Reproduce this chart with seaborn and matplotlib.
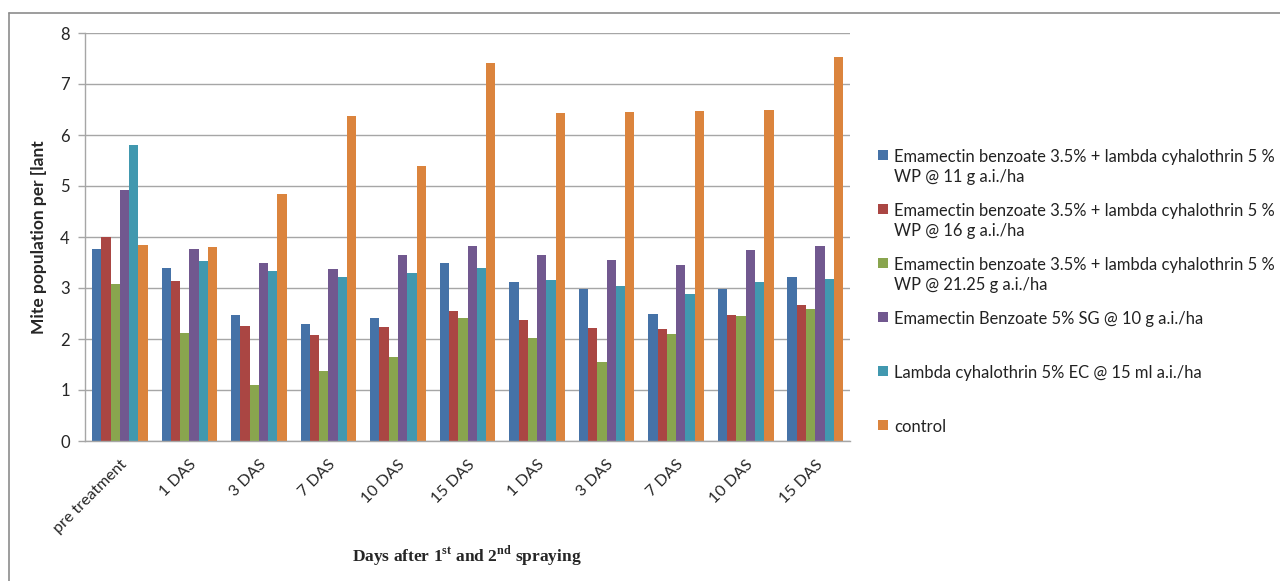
import numpy as np
import pandas as pd
import seaborn as sns
import matplotlib.pyplot as plt
from matplotlib.patches import Rectangle
from matplotlib.lines import Line2D

# datos
dias = ["pre treatment", "1 DAS", "3 DAS", "7 DAS", "10 DAS", "15 DAS",
        "1 DAS", "3 DAS", "7 DAS", "10 DAS", "15 DAS"]

tratamientos = [
    "Emamectin benzoate 3.5% + lambda cyhalothrin 5 %\nWP @ 11 g a.i./ha",
    "Emamectin benzoate 3.5% + lambda cyhalothrin 5 %\nWP @ 16 g a.i./ha",
    "Emamectin benzoate 3.5% + lambda cyhalothrin 5 %\nWP @ 21.25 g a.i./ha",
    "Emamectin Benzoate 5% SG @ 10 g a.i./ha",
    "Lambda cyhalothrin 5% EC @ 15 ml a.i./ha",
    "control",
]

ema_11 = [3.77, 3.39, 2.47, 2.29, 2.42, 3.50, 3.11, 2.98, 2.49, 2.98, 3.21]
ema_16 = [4.00, 3.13, 2.25, 2.08, 2.23, 2.54, 2.37, 2.22, 2.20, 2.48, 2.66]
ema_2125 = [3.08, 2.12, 1.09, 1.38, 1.64, 2.42, 2.02, 1.55, 2.10, 2.45, 2.59]
ema_sg = [4.93, 3.77, 3.50, 3.38, 3.65, 3.82, 3.65, 3.55, 3.45, 3.75, 3.82]
lambda_ec = [5.81, 3.53, 3.33, 3.21, 3.29, 3.40, 3.15, 3.03, 2.88, 3.12, 3.18]
control = [3.85, 3.80, 4.85, 6.38, 5.40, 7.42, 6.43, 6.45, 6.48, 6.50, 7.52]

colores = ["#4572A7", "#AA4643", "#89A54E", "#71588F", "#4198AF", "#DB843D"]

series = [ema_11, ema_16, ema_2125, ema_sg, lambda_ec, control]
filas = []
for trat, valores in zip(tratamientos, series):
    for i, v in enumerate(valores):
        filas.append({"pos": i, "tratamiento": trat, "valor": v})
df = pd.DataFrame(filas)

sns.set_style("white")
plt.rcParams["font.family"] = ["Lato", "DejaVu Sans"]
plt.rcParams["mathtext.fontset"] = "custom"
plt.rcParams["mathtext.rm"] = "Liberation Serif:bold"

fig = plt.figure(figsize=(12.8, 5.81), dpi=100)
ax = fig.add_axes([85 / 1280, 1 - 441 / 581, (850 - 85) / 1280, (441 - 33) / 581])

sns.barplot(data=df, x="pos", y="valor", hue="tratamiento", hue_order=tratamientos,
            palette=colores, width=0.8, gap=0, saturation=1, edgecolor="none",
            legend=False, ax=ax)

ax.set_ylim(0, 8)
ax.set_xlim(-0.5, len(dias) - 0.5)
ax.set_yticks(range(0, 9))
ax.yaxis.grid(True, color="#A6A6A6", linewidth=1)
ax.set_axisbelow(True)
for s in ["top", "right"]:
    ax.spines[s].set_visible(False)
for s in ["left", "bottom"]:
    ax.spines[s].set_color("#A6A6A6")
    ax.spines[s].set_linewidth(1)

ax.set_xticks(range(len(dias)))
ax.set_xticklabels(dias, rotation=45, ha="right", rotation_mode="anchor", fontsize=11.5)
ax.set_xticks(np.arange(-0.5, len(dias)), minor=True)
ax.tick_params(axis="x", which="major", length=0, pad=12)
ax.tick_params(axis="x", which="minor", length=5, color="#A6A6A6", width=1)
ax.tick_params(axis="y", length=5, color="#A6A6A6", width=1, labelsize=12, pad=6)
ax.tick_params(axis="y", left=True)

ax.set_xlabel("")
ax.set_ylabel("Mite population per [lant", fontsize=12.5, fontweight="bold")
ax.yaxis.set_label_coords(-0.05, 0.5)

fig.text(467 / 1280, 1 - 556 / 581,
         r"Days after 1$^{\mathrm{st}}$ and 2$^{\mathrm{nd}}$ spraying",
         family="Liberation Serif", fontweight="bold", fontsize=12.5,
         ha="center", va="center")

# leyenda manual (el cuadro queda alineado con la primera linea)
y_ini = 155
paso = 54
for k, (trat, col) in enumerate(zip(tratamientos, colores)):
    yc = y_ini + k * paso
    fig.patches.append(Rectangle((878 / 1280, 1 - (yc + 5) / 581), 10 / 1280, 10 / 581,
                                 transform=fig.transFigure, facecolor=col,
                                 edgecolor="none"))
    fig.text(894 / 1280, 1 - (yc - 6) / 581, trat, fontsize=11.9, color="#222222",
             ha="left", va="top", linespacing=1.3)

# borde del area del grafico
fig.add_artist(Line2D([9 / 1280, 9 / 1280], [0, 1 - 13 / 581], transform=fig.transFigure,
                      color="#8C8C8C", linewidth=1.2))
fig.add_artist(Line2D([9 / 1280, 1], [1 - 13 / 581, 1 - 13 / 581], transform=fig.transFigure,
                      color="#8C8C8C", linewidth=1.2))

fig.savefig("out.png", dpi=100)
